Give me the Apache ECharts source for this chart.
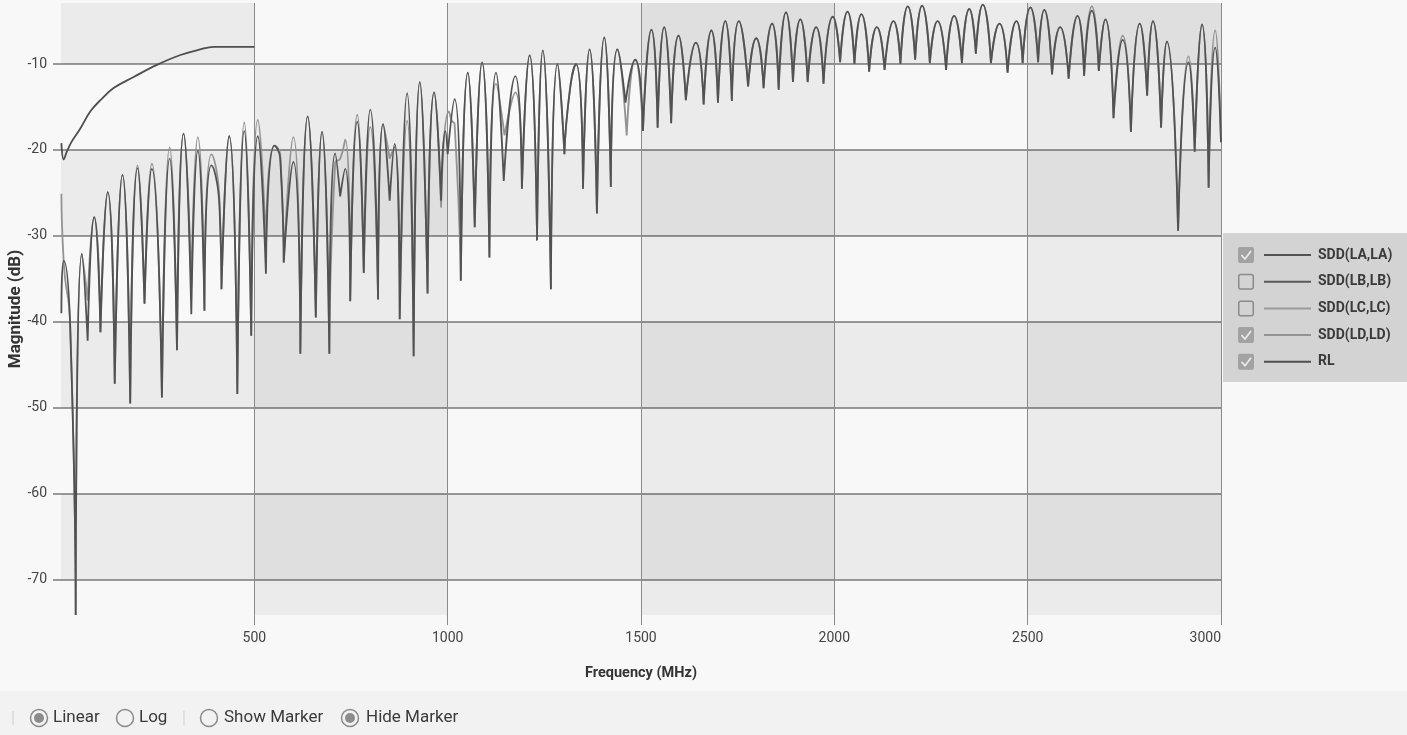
<!DOCTYPE html>
<html><head><meta charset="utf-8">
<script src="https://cdn.jsdelivr.net/npm/echarts@6/dist/echarts.min.js"></script>
<style>html,body{margin:0;padding:0;background:#f8f8f8;}#c{width:1407px;height:735px;}</style>
</head><body><div id="c"></div>
<script>
// ---------- data ----------
const seriesNames = ['SDD(LA,LA)', 'SDD(LB,LB)', 'SDD(LC,LC)', 'SDD(LD,LD)', 'RL'];
const seriesChecked = [true, false, false, true, true];
const xTickValues = [500, 1000, 1500, 2000, 2500, 3000];
const yTickValues = [-70, -60, -50, -40, -30, -20, -10];
const toolbarLabels = ['Linear', 'Log', 'Show Marker', 'Hide Marker'];
const toolbarChecked = [true, false, false, true];

// [frequency MHz, magnitude dB]
const sddLA = [[1,-39.0],[7,-32.9],[24,-41.0],[38,-74.1],[54,-32.1],[69,-42.2],[86,-27.8],[102,-41.2],[121,-24.9],[139,-47.2],[159,-22.9],[179,-49.5],[198,-22.1],[216,-37.9],[235,-22.2],[261,-48.8],[281,-21.0],[300,-43.3],[317,-18.1],[337,-39.1],[354,-20.1],[371,-38.7],[389,-21.8],[410,-26.7],[415,-36.2],[435,-18.4],[456,-48.4],[474,-17.8],[492,-41.6],[509,-18.4],[530,-34.4],[552,-19.5],[567,-21.0],[576,-33.1],[601,-21.4],[619,-43.7],[638,-16.1],[659,-39.5],[675,-17.9],[694,-43.7],[709,-20.4],[722,-25.4],[735,-22.2],[748,-37.6],[766,-16.7],[783,-34.3],[800,-15.3],[820,-37.4],[833,-17.0],[850,-25.9],[863,-19.3],[876,-39.7],[895,-13.4],[912,-44.0],[928,-12.1],[948,-36.7],[965,-13.3],[983,-25.9],[994,-17.8],[1000,-20.5],[1018,-14.1],[1034,-35.2],[1052,-11.0],[1070,-29.0],[1089,-9.8],[1108,-32.5],[1125,-11.0],[1145,-23.6],[1175,-11.4],[1192,-24.5],[1212,-9.0],[1231,-30.5],[1246,-8.4],[1267,-36.2],[1284,-10.0],[1302,-20.5],[1317,-12.7],[1332,-10.0],[1350,-24.5],[1367,-8.3],[1386,-27.4],[1405,-6.9],[1422,-24.3],[1439,-8.3],[1460,-14.5],[1485,-9.5],[1505,-17.8],[1527,-6.0],[1543,-17.4],[1560,-5.7],[1578,-16.9],[1597,-6.7],[1616,-14.2],[1642,-7.5],[1662,-14.7],[1682,-6.1],[1699,-14.5],[1718,-5.0],[1735,-14.3],[1753,-5.0],[1777,-12.6],[1798,-7.0],[1817,-12.8],[1839,-5.3],[1856,-13.0],[1875,-4.0],[1893,-12.1],[1912,-4.8],[1931,-12.1],[1953,-5.7],[1972,-12.3],[1996,-4.5],[2015,-9.8],[2034,-3.9],[2052,-10.0],[2070,-4.2],[2090,-10.9],[2110,-5.7],[2130,-10.7],[2153,-5.0],[2171,-10.0],[2190,-3.3],[2209,-9.5],[2227,-3.2],[2247,-9.9],[2267,-5.0],[2289,-10.7],[2310,-4.4],[2330,-9.9],[2349,-3.6],[2366,-8.8],[2384,-3.1],[2405,-9.9],[2427,-5.3],[2448,-11.0],[2471,-5.0],[2487,-9.9],[2507,-3.4],[2527,-9.8],[2543,-3.7],[2563,-11.2],[2584,-5.7],[2606,-11.7],[2629,-4.4],[2646,-11.4],[2666,-3.8],[2684,-10.8],[2701,-4.8],[2722,-16.3],[2746,-7.2],[2767,-17.9],[2790,-5.3],[2809,-13.7],[2824,-5.0],[2845,-17.4],[2860,-7.4],[2889,-29.4],[2916,-9.8],[2932,-20.2],[2951,-5.4],[2968,-24.4],[2985,-8.1],[3000,-19.1]];

const sddLD = [[1,-25.1],[7,-33.0],[24,-40.5],[38,-74.1],[54,-32.1],[69,-37.5],[86,-27.8],[102,-41.2],[121,-24.9],[139,-47.2],[159,-22.9],[179,-49.5],[198,-21.8],[216,-37.9],[235,-21.6],[261,-48.8],[281,-19.7],[300,-43.3],[317,-18.1],[337,-36.0],[354,-18.5],[371,-38.7],[389,-20.5],[410,-26.0],[415,-36.2],[435,-18.4],[456,-48.4],[474,-16.8],[492,-41.6],[509,-16.5],[530,-31.0],[552,-19.5],[567,-20.5],[576,-33.1],[601,-18.5],[619,-43.7],[638,-16.1],[659,-39.5],[675,-17.9],[694,-43.7],[709,-21.5],[722,-21.0],[735,-18.8],[748,-37.6],[766,-15.9],[783,-34.3],[800,-17.3],[820,-37.4],[833,-17.0],[850,-21.0],[863,-19.6],[876,-39.7],[895,-16.6],[912,-44.0],[928,-12.1],[948,-36.7],[965,-13.3],[983,-26.7],[1003,-15.5],[1011,-16.6],[1018,-17.0],[1034,-35.2],[1052,-11.0],[1070,-29.0],[1089,-9.8],[1108,-32.5],[1125,-12.3],[1147,-18.3],[1175,-13.3],[1192,-24.5],[1212,-9.0],[1231,-30.5],[1246,-8.4],[1267,-36.2],[1284,-10.0],[1302,-20.5],[1317,-12.7],[1332,-10.0],[1350,-24.5],[1367,-8.3],[1386,-27.4],[1405,-6.9],[1422,-24.3],[1439,-8.3],[1463,-18.3],[1485,-9.5],[1505,-17.8],[1527,-6.0],[1543,-17.4],[1560,-5.7],[1578,-16.9],[1597,-6.7],[1616,-14.2],[1642,-7.5],[1662,-14.7],[1682,-6.1],[1699,-14.5],[1718,-5.0],[1735,-14.3],[1753,-5.0],[1777,-12.6],[1798,-7.0],[1817,-12.8],[1839,-5.3],[1856,-13.0],[1875,-4.0],[1893,-12.1],[1912,-4.8],[1931,-12.1],[1953,-5.7],[1972,-12.3],[1996,-4.5],[2015,-9.8],[2034,-3.9],[2052,-10.0],[2070,-4.2],[2090,-10.9],[2110,-5.7],[2130,-10.7],[2153,-5.0],[2171,-10.0],[2190,-3.3],[2209,-9.5],[2227,-3.2],[2247,-9.9],[2267,-5.0],[2289,-10.7],[2310,-4.4],[2330,-9.9],[2349,-3.6],[2366,-8.8],[2384,-3.1],[2405,-9.9],[2427,-5.3],[2448,-11.0],[2471,-5.0],[2487,-9.9],[2507,-3.4],[2527,-9.8],[2543,-3.7],[2563,-11.2],[2584,-5.7],[2606,-11.7],[2629,-4.4],[2646,-11.4],[2666,-3.3],[2684,-10.8],[2701,-4.8],[2722,-16.3],[2746,-6.7],[2767,-17.9],[2790,-5.3],[2809,-13.7],[2824,-5.0],[2845,-17.4],[2860,-7.4],[2889,-29.4],[2916,-9.1],[2932,-20.2],[2951,-5.4],[2968,-24.4],[2985,-6.1],[3000,-19.1]];

const rlLimit = [[1,-19.2],[7,-21.1],[15,-20.2],[28,-19.0],[50,-17.5],[76,-15.5],[102,-14.2],[136,-12.8],[188,-11.5],[248,-10.1],[309,-8.95],[360,-8.3],[395,-8.0],[500,-8.0]];

// ---------- build line data: split at local minima so nulls stay sharp ----------
function lobeData(pts) {
  const out = [];
  for (let i = 0; i < pts.length; i++) {
    out.push(pts[i]);
    if (i > 0 && i < pts.length - 1 && pts[i][1] < pts[i - 1][1] && pts[i][1] < pts[i + 1][1]) {
      out.push([pts[i][0], '-']);
      out.push(pts[i]);
    }
  }
  return out;
}

const FONT = 'Roboto, "Noto Sans", sans-serif';
const lineColors = { 'SDD(LA,LA)': '#525252', 'SDD(LB,LB)': '#5a5a5a', 'SDD(LC,LC)': '#9c9c9c', 'SDD(LD,LD)': '#939393', 'RL': '#4e4e4e' };
const Y_MIN = -74.1, Y_MAX = -2.9;

const chart = echarts.init(document.getElementById('c'), null, { renderer: 'canvas' });

// legend + toolbar as graphic elements
const graphics = [];
graphics.push({ type: 'rect', shape: { x: 0, y: 691, width: 1407, height: 44 }, style: { fill: '#f2f2f2' }, silent: true, z: -1 });
graphics.push({ type: 'rect', shape: { x: 1223, y: 233, width: 184, height: 149 }, style: { fill: '#d3d3d3' }, z: 10 });
const rowY0 = 255, rowStep = 26.7;
seriesNames.forEach((nm, i) => {
  const cy = rowY0 + i * rowStep;
  if (seriesChecked[i]) {
    graphics.push({ type: 'rect', shape: { x: 1238, y: cy - 8, width: 16, height: 16, r: 2 }, style: { fill: '#a2a2a2' }, z: 11 });
    graphics.push({ type: 'polyline', shape: { points: [[1241.5, cy], [1245, cy + 4], [1251, cy - 4]] }, style: { stroke: '#ededed', lineWidth: 1.6, fill: null }, z: 12 });
  } else {
    graphics.push({ type: 'rect', shape: { x: 1238.75, y: cy - 7.25, width: 14.5, height: 14.5, r: 2 }, style: { fill: 'none', stroke: '#8a8a8a', lineWidth: 1.5 }, z: 11 });
  }
  graphics.push({ type: 'line', shape: { x1: 1264, y1: cy, x2: 1311, y2: cy }, style: { stroke: lineColors[nm], lineWidth: 2 }, z: 11 });
  graphics.push({ type: 'text', x: 1318, y: cy, style: { text: nm, font: 'bold 14px ' + FONT, fill: '#3a3a3a', verticalAlign: 'middle', align: 'left' }, z: 11 });
});
// toolbar
const tbRadioX = [39, 125, 209, 350];
const tbTextX = [53, 139, 224, 366];
const tbY = 718;
[13, 184].forEach(sx => graphics.push({ type: 'line', shape: { x1: sx, y1: 711, x2: sx, y2: 725 }, style: { stroke: '#cfcfcf', lineWidth: 1 } }));
toolbarLabels.forEach((t, i) => {
  graphics.push({ type: 'circle', shape: { cx: tbRadioX[i], cy: tbY, r: 8.5 }, style: { fill: 'none', stroke: '#8a8a8a', lineWidth: 1.5 } });
  if (toolbarChecked[i]) graphics.push({ type: 'circle', shape: { cx: tbRadioX[i], cy: tbY, r: 5 }, style: { fill: '#8c8c8c' } });
  graphics.push({ type: 'text', x: tbTextX[i], y: tbY, style: { text: t, font: '17px ' + FONT, fill: '#3a3a3a', verticalAlign: 'middle' } });
});

const option = {
  animation: false,
  backgroundColor: '#f8f8f8',
  grid: { left: 61, right: 186, top: 3, bottom: 120, containLabel: false, outerBoundsMode: 'none' },
  xAxis: {
    type: 'value', min: 0, max: 3000, interval: 500,
    name: 'Frequency (MHz)', nameLocation: 'middle', nameGap: 51, nameMoveOverlap: false,
    nameTextStyle: { fontFamily: FONT, fontWeight: 'bold', fontSize: 14.5, color: '#333' },
    axisLine: { show: false },
    axisTick: { show: true, length: 10, customValues: xTickValues, lineStyle: { color: '#8a8a8a', width: 1 } },
    axisLabel: { customValues: xTickValues, margin: 16, fontFamily: FONT, fontSize: 14, color: '#444', formatter: v => String(v), alignMaxLabel: 'right' },
    splitLine: { show: true, showMinLine: true, showMaxLine: true, lineStyle: { color: '#8a8a8a', width: 1 } },
    splitArea: { show: true, areaStyle: { color: ['rgba(0,0,0,0.05)', 'rgba(0,0,0,0)'] } }
  },
  yAxis: [{
    type: 'value', min: Y_MIN, max: Y_MAX, splitNumber: 7,
    name: 'Magnitude (dB)', nameLocation: 'middle', nameGap: 37, nameMoveOverlap: false,
    nameTextStyle: { fontFamily: FONT, fontWeight: 'bold', fontSize: 17, color: '#333' },
    axisLine: { show: false },
    axisTick: { show: true, length: 8, customValues: yTickValues, lineStyle: { color: '#9a9a9a', width: 2 } },
    axisLabel: { customValues: yTickValues, margin: 14, fontFamily: FONT, fontSize: 14, color: '#444' },
    splitLine: { show: true, showMinLine: true, showMaxLine: true, lineStyle: { color: '#9a9a9a', width: 2 } },
    splitArea: { show: false }
  }, {
    // row bands only (ticks include the axis ends, so the top band is filled too)
    type: 'value', min: Y_MIN, max: Y_MAX, splitNumber: 7, position: 'left',
    axisLine: { show: false }, axisTick: { show: false }, axisLabel: { show: false },
    splitLine: { show: false },
    splitArea: { show: true, areaStyle: { color: ['rgba(0,0,0,0)', 'rgba(0,0,0,0.05)'] } }
  }],
  series: [
    { name: 'SDD(LD,LD)', type: 'line', yAxisIndex: 0, data: lobeData(sddLD), smooth: 0.6, showSymbol: false, symbol: 'none', lineStyle: { color: lineColors['SDD(LD,LD)'], width: 1.8 } },
    { name: 'SDD(LA,LA)', type: 'line', yAxisIndex: 0, data: lobeData(sddLA), smooth: 0.6, showSymbol: false, symbol: 'none', lineStyle: { color: lineColors['SDD(LA,LA)'], width: 1.8 } },
    { name: 'RL', type: 'line', yAxisIndex: 0, data: rlLimit, smooth: 0.4, showSymbol: false, symbol: 'none', lineStyle: { color: lineColors['RL'], width: 1.8 } }
  ],
  graphic: graphics
};
chart.setOption(option);
</script></body></html>
